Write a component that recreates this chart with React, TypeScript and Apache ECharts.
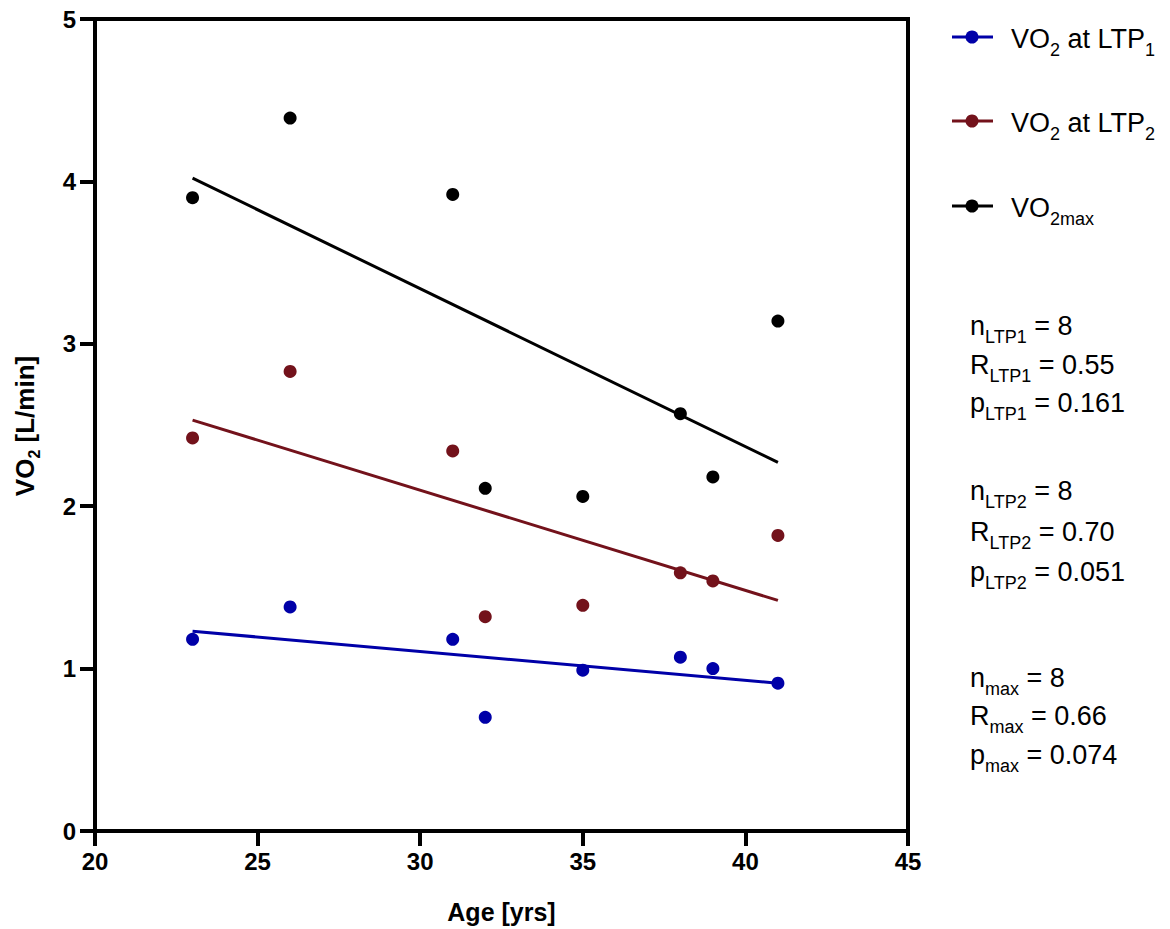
import React, { useEffect, useRef } from "react";
import * as echarts from "echarts";

// Subject ages (years)
const ages = [23, 26, 31, 32, 35, 38, 39, 41];

// Oxygen uptake (L/min) per subject
const vo2Ltp1 = [1.18, 1.38, 1.18, 0.7, 0.99, 1.07, 1.0, 0.91];
const vo2Ltp2 = [2.42, 2.83, 2.34, 1.32, 1.39, 1.59, 1.54, 1.82];
const vo2Max = [3.9, 4.39, 3.92, 2.11, 2.06, 2.57, 2.18, 3.14];

// Linear regression lines: value at the youngest and oldest age
const fitAges = [23, 41];
const fitLtp1 = [1.23, 0.91];
const fitLtp2 = [2.53, 1.42];
const fitMax = [4.02, 2.27];

const xTicks = [20, 25, 30, 35, 40, 45];
const yTicks = [0, 1, 2, 3, 4, 5];

const BLUE = "#0000a8";
const RED = "#73121b";
const BLACK = "#000000";

const FONT = "'Liberation Sans', Arial, Helvetica, sans-serif";

// Statistics block lines: [symbol, subscript, value]
const statLines: [string, string, string][] = [
  ["n", "LTP1", " = 8"],
  ["R", "LTP1", " = 0.55"],
  ["p", "LTP1", " = 0.161"],
  ["n", "LTP2", " = 8"],
  ["R", "LTP2", " = 0.70"],
  ["p", "LTP2", " = 0.051"],
  ["n", "max", " = 8"],
  ["R", "max", " = 0.66"],
  ["p", "max", " = 0.074"],
];
const statY = [324, 363, 401, 489, 530, 570, 676, 714, 753];

const legendItems = [
  { name: "VO2 at LTP1", color: BLUE, parts: ["VO", "2", " at LTP", "1"] },
  { name: "VO2 at LTP2", color: RED, parts: ["VO", "2", " at LTP", "2"] },
  { name: "VO2max", color: BLACK, parts: ["VO", "2max", "", ""] },
];
const legendY = [37, 121, 206];

const richBase = (size: number, subSize: number, bold: boolean) => ({
  m: {
    fontSize: size,
    fontFamily: FONT,
    fontWeight: bold ? "bold" : "normal",
    color: "#000",
    lineHeight: size + 4,
    verticalAlign: "top",
  },
  s: {
    fontSize: subSize,
    fontFamily: FONT,
    fontWeight: bold ? "bold" : "normal",
    color: "#000",
    lineHeight: subSize + 2,
    padding: [Math.round(size * 0.55), 0, 0, 0],
    verticalAlign: "top",
  },
});

const pair = (xs: number[], ys: number[]) => xs.map((x, i) => [x, ys[i]]);

export default function App() {
  const ref = useRef<HTMLDivElement>(null);

  useEffect(() => {
    if (!ref.current) return;
    const chart = echarts.init(ref.current, null, { renderer: "svg" });

    const graphics: any[] = [];

    legendItems.forEach((item, i) => {
      const y = legendY[i];
      graphics.push({
        type: "line",
        shape: { x1: 952, y1: y, x2: 993, y2: y },
        style: { stroke: item.color, lineWidth: 3 },
      });
      graphics.push({
        type: "circle",
        shape: { cx: 972, cy: y, r: 6.5 },
        style: { fill: item.color },
      });
      const [a, b, c, d] = item.parts;
      let txt = `{m|${a}}{s|${b}}`;
      if (c) txt += `{m|${c}}`;
      if (d) txt += `{s|${d}}`;
      graphics.push({
        type: "text",
        x: 1011,
        y: y + 4,
        style: {
          text: txt,
          verticalAlign: "middle",
          align: "left",
          rich: richBase(27, 18, false),
        },
      });
    });

    statLines.forEach(([sym, sub, val], i) => {
      graphics.push({
        type: "text",
        x: 970,
        y: statY[i] + 4,
        style: {
          text: `{m|${sym}}{s|${sub}}{m|${val}}`,
          verticalAlign: "middle",
          align: "left",
          rich: richBase(27, 18, false),
        },
      });
    });

    // Rotated y-axis title with subscript
    graphics.push({
      type: "text",
      x: 27,
      y: 426,
      rotation: Math.PI / 2,
      style: {
        text: "{m|VO}{s|2}{m| [L/min]}",
        verticalAlign: "middle",
        align: "center",
        rich: richBase(26, 16, true),
      },
    });

    const scatter = (name: string, ys: number[], color: string) => ({
      name,
      type: "scatter",
      data: pair(ages, ys),
      symbol: "circle",
      symbolSize: 13,
      itemStyle: { color, opacity: 1 },
      z: 3,
    });
    const fit = (name: string, ys: number[], color: string) => ({
      name,
      type: "line",
      data: pair(fitAges, ys),
      symbol: "none",
      lineStyle: { color, width: 3 },
      z: 2,
    });

    chart.setOption({
      animation: false,
      backgroundColor: "#ffffff",
      textStyle: { fontFamily: FONT },
      grid: {
        left: 95,
        right: 262,
        top: 19,
        bottom: 94,
        show: true,
        borderColor: "#000",
        borderWidth: 4,
        backgroundColor: "transparent",
      },
      xAxis: {
        type: "value",
        min: xTicks[0],
        max: xTicks[xTicks.length - 1],
        interval: 5,
        name: "Age [yrs]",
        nameLocation: "middle",
        nameGap: 68,
        nameTextStyle: {
          fontSize: 25,
          fontWeight: "bold",
          color: "#000",
          fontFamily: FONT,
        },
        axisLine: { show: true, lineStyle: { color: "#000", width: 4 } },
        axisTick: {
          show: true,
          length: 15,
          lineStyle: { color: "#000", width: 4 },
        },
        axisLabel: {
          fontSize: 24,
          fontWeight: "bold",
          color: "#000",
          margin: 18,
          fontFamily: FONT,
        },
        splitLine: { show: false },
      },
      yAxis: {
        type: "value",
        min: yTicks[0],
        max: yTicks[yTicks.length - 1],
        interval: 1,
        axisLine: { show: true, lineStyle: { color: "#000", width: 4 } },
        axisTick: {
          show: true,
          length: 15,
          lineStyle: { color: "#000", width: 4 },
        },
        axisLabel: {
          fontSize: 24,
          fontWeight: "bold",
          color: "#000",
          margin: 19,
          fontFamily: FONT,
        },
        splitLine: { show: false },
      },
      series: [
        fit("LTP1 fit", fitLtp1, BLUE),
        fit("LTP2 fit", fitLtp2, RED),
        fit("max fit", fitMax, BLACK),
        scatter("VO2 at LTP1", vo2Ltp1, BLUE),
        scatter("VO2 at LTP2", vo2Ltp2, RED),
        scatter("VO2max", vo2Max, BLACK),
      ],
      graphic: graphics,
    });

    return () => chart.dispose();
  }, []);

  return (
    <div
      ref={ref}
      style={{ position: "fixed", left: 0, top: 0, width: 1170, height: 929 }}
    />
  );
}
